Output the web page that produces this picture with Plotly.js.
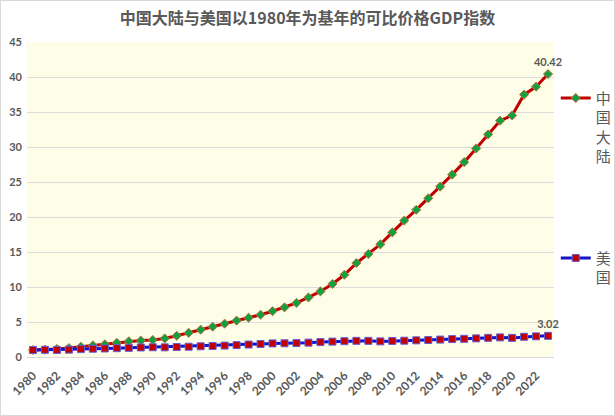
<!DOCTYPE html>
<html><head><meta charset="utf-8">
<script src="https://cdn.plot.ly/plotly-3.0.1.min.js"></script>
<style>html,body{margin:0;padding:0;background:#fff}#c{width:613px;height:414px;border:1px solid #d9d9d9}</style>
</head><body><div id="c"></div>
<script>
const years = [1980,1981,1982,1983,1984,1985,1986,1987,1988,1989,1990,1991,1992,1993,1994,1995,1996,1997,1998,1999,2000,2001,2002,2003,2004,2005,2006,2007,2008,2009,2010,2011,2012,2013,2014,2015,2016,2017,2018,2019,2020,2021,2022,2023];
const chinaIndex = [1,1.05,1.15,1.27,1.46,1.66,1.81,2.02,2.24,2.34,2.43,2.65,3.03,3.45,3.9,4.33,4.76,5.2,5.61,6.04,6.54,7.09,7.73,8.51,9.37,10.43,11.75,13.42,14.71,16.09,17.8,19.49,21.03,22.67,24.34,26.05,27.84,29.79,31.8,33.76,34.51,37.48,38.61,40.42];
const usIndex = [1,1.03,1.01,1.05,1.13,1.18,1.22,1.26,1.31,1.36,1.39,1.38,1.43,1.47,1.53,1.57,1.63,1.7,1.78,1.86,1.94,1.96,1.99,2.05,2.13,2.2,2.26,2.31,2.31,2.23,2.29,2.33,2.38,2.43,2.49,2.56,2.6,2.66,2.74,2.8,2.73,2.89,2.95,3.02];
const tickYears = [1980,1982,1984,1986,1988,1990,1992,1994,1996,1998,2000,2002,2004,2006,2008,2010,2012,2014,2016,2018,2020,2022];
const chinaName = '中国大陆';
const usName = '美国';
const titleText = '中国大陆与美国以1980年为基年的可比价格GDP指数';

const lastLabel = arr => arr.map((v,i)=> i===arr.length-1 ? v.toFixed(2) : '');
const vert = s => s.split('').join('<br>');
const gray = '#595959';
const tickF = {family:'Lato, sans-serif', size:11, color:gray, weight:700};
const xTickF = {family:'Lato, sans-serif', size:12, color:gray, weight:700};

const traces = [
  {x: years, y: chinaIndex, name: vert(chinaName), type:'scatter', mode:'lines+markers+text',
   line:{color:'#C00000', width:3},
   marker:{symbol:'diamond', size:7, color:'#10A040', line:{color:'#C07040', width:1}},
   text: lastLabel(chinaIndex), textposition:'top center',
   textfont:tickF, legendgroup:'a', cliponaxis:false},
  {x: years, y: usIndex, name: vert(usName), type:'scatter', mode:'lines+markers+text',
   line:{color:'#1414C8', width:3},
   marker:{symbol:'square', size:7, color:'#C00000', line:{color:'#6060E0', width:1}},
   text: lastLabel(usIndex), textposition:'top center',
   textfont:tickF, legendgroup:'b', cliponaxis:false}
];

const layout = {
  width:613, height:414,
  margin:{l:26, r:60, t:41, b:58},
  paper_bgcolor:'#ffffff', plot_bgcolor:'#FEFDE8',
  title:{text:titleText, x:0.5, xanchor:'center', y:0.957, yanchor:'middle',
         font:{family:'Noto Sans CJK SC, sans-serif', size:16, color:gray, weight:700}},
  xaxis:{range:[1979.5,2023.5], tickmode:'array', tickvals:tickYears, ticktext:tickYears.map(String),
         tickangle:-45, showgrid:false, zeroline:false, showline:true, linecolor:'#d9d9d9', linewidth:1,
         ticks:'', ticklabelstandoff:6, tickfont:xTickF},
  yaxis:{range:[0,45], dtick:5, showgrid:true, gridcolor:'#dcdcdc', gridwidth:1, zeroline:false,
         showline:false, ticks:'', ticklabelstandoff:4, tickfont:tickF},
  legend:{xref:'container', yref:'container', x:0.905, xanchor:'left', y:0.805, yanchor:'top',
          valign:'top', tracegroupgap:79, bgcolor:'rgba(0,0,0,0)',
          font:{family:'Noto Sans CJK SC, sans-serif', size:15, color:gray}},
  showlegend:true
};
Plotly.newPlot('c', traces, layout, {displayModeBar:false, staticPlot:true});
</script></body></html>
